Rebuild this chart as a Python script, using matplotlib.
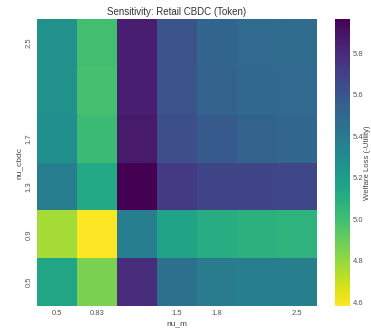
import matplotlib
matplotlib.use("Agg")
import matplotlib.pyplot as plt
import numpy as np
import seaborn as sns

# parameter grid
nu_m = [0.5, 0.83, 1.17, 1.5, 1.83, 2.17, 2.5]
nu_cbdc = [0.5, 0.9, 1.3, 1.7, 2.1, 2.5]

x_labels = ["0.5", "0.83", "", "1.5", "1.8", "", "2.5"]
y_labels = ["0.5", "0.9", "1.3", "1.7", "", "2.5"]

# welfare loss (-utility), rows follow nu_cbdc ascending
loss = np.array([
    [5.15, 4.86, 5.79, 5.46, 5.39, 5.38, 5.37],
    [4.77, 4.58, 5.38, 5.16, 5.10, 5.08, 5.07],
    [5.38, 5.13, 5.96, 5.73, 5.68, 5.68, 5.67],
    [5.28, 5.02, 5.87, 5.63, 5.58, 5.53, 5.51],
    [5.27, 4.99, 5.85, 5.61, 5.53, 5.50, 5.49],
    [5.27, 5.00, 5.85, 5.615, 5.52, 5.49, 5.48],
])

sns.set_theme(style="white")
plt.rcParams["font.family"] = ["Liberation Sans", "DejaVu Sans"]

fig = plt.figure(figsize=(3.71, 3.31), dpi=100)
ax = fig.add_axes([0.0997, 0.0755, 0.7543, 0.8671])
cax = fig.add_axes([0.903, 0.0755, 0.040, 0.8671])

sns.heatmap(loss[::-1], ax=ax, cbar_ax=cax, cmap="viridis_r",
            vmin=4.581, vmax=5.964,
            xticklabels=x_labels, yticklabels=y_labels[::-1])

ax.set_title("Sensitivity: Retail CBDC (Token)", fontsize=7, color="#333333", pad=3)
ax.set_xlabel("nu_m", fontsize=6, color="#444444", labelpad=2)
ax.set_ylabel("nu_cbdc", fontsize=6, color="#444444", labelpad=2)
ax.tick_params(axis="both", labelsize=5.5, colors="#555555", length=0, pad=3)

cax.tick_params(labelsize=5.5, colors="#555555", length=0, pad=2)
cax.set_yticks([4.6, 4.8, 5.0, 5.2, 5.4, 5.6, 5.8])
cax.set_yticklabels(["4.6", "4.8", "5.0", "5.2", "5.4", "5.6", "5.8"])
cax.set_ylabel("Welfare Loss (-Utility)", fontsize=5.6, color="#444444", labelpad=0.5)

fig.savefig("out.png", dpi=100)
